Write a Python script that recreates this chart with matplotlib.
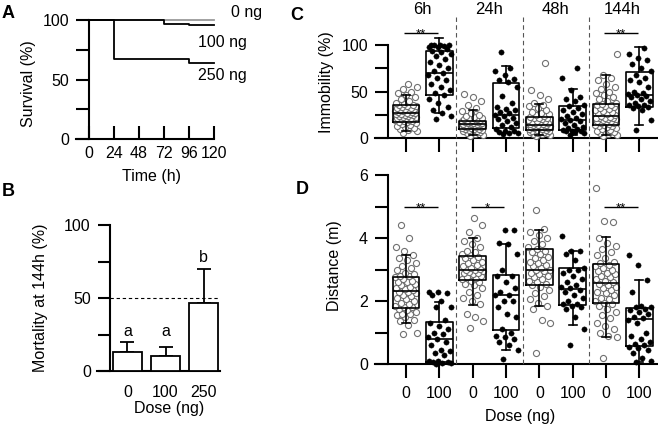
import matplotlib
matplotlib.use('Agg')
import matplotlib.pyplot as plt
from matplotlib.transforms import blended_transform_factory
from matplotlib.lines import Line2D

plt.rcParams['font.family'] = ['Liberation Sans', 'DejaVu Sans']
plt.rcParams['font.size'] = 11.5

# ---------------- data ----------------
# Panel A: survival (Kaplan-Meier steps)
surv_labels = ['0 ng', '100 ng', '250 ng']
surv0_t = [0, 120]
surv0_v = [100, 100]
surv100_t = [0, 72, 96, 120]
surv100_v = [100, 97, 96, 96]
surv250_t = [0, 24, 96, 120]
surv250_v = [100, 67, 64, 64]
time_ticks = [0, 24, 48, 72, 96, 120]

# Panel B: mortality at 144h
dose_B = ['0', '100', '250']
mort_mean = [13, 10, 46.5]
mort_err = [7, 6.3, 23.5]
mort_letters = ['a', 'a', 'b']
mort_letter_y = [27, 27, 78]
mort_ref = 50

# Panels C/D groups
time_titles = ['6h', '24h', '48h', '144h']
dose_CD = ['0', '100', '0', '100', '0', '100', '0', '100']

C_6h_ctrl = [5, 7, 9, 10, 11, 12, 13, 14, 15, 16, 17, 17, 18, 18, 19, 19, 20, 21, 21, 22, 22, 23, 23,
             24, 24, 25, 25, 26, 26, 26, 27, 27, 28, 28, 29, 29, 30, 30, 31, 31, 32, 32, 33, 34, 34, 35,
             36, 37, 38, 40, 42, 44, 46, 48, 50, 53, 55, 58]
C_6h_trt = [20, 24, 27, 30, 33, 38, 42, 46, 48, 52, 55, 58, 62, 65, 68, 70, 72, 75, 78, 82, 85, 88, 90,
            92, 94, 96, 98, 98, 99, 100, 100, 100, 100]
C_24h_ctrl = [2, 3, 4, 5, 6, 7, 8, 8, 9, 9, 10, 10, 10, 11, 11, 12, 12, 12, 13, 13, 13, 14, 14, 14, 14,
              15, 15, 15, 15, 16, 16, 16, 17, 17, 17, 18, 18, 18, 19, 19, 20, 20, 21, 22, 23, 24, 25, 27,
              29, 32, 35, 40, 44, 47]
C_24h_trt = [4, 5, 5, 6, 7, 8, 10, 12, 14, 16, 18, 20, 22, 24, 25, 27, 28, 30, 31, 33, 38, 45, 55, 60,
             62, 63, 68, 72, 75, 93]
C_48h_ctrl = [2, 3, 4, 4, 5, 5, 6, 6, 7, 7, 8, 8, 9, 9, 10, 10, 11, 11, 12, 12, 12, 13, 13, 13, 14, 14,
              14, 15, 15, 16, 16, 17, 17, 18, 18, 19, 20, 21, 22, 22, 23, 24, 25, 26, 27, 28, 30, 32, 34,
              36, 38, 42, 46, 52, 81]
C_48h_trt = [3, 5, 6, 7, 8, 8, 9, 10, 11, 12, 14, 16, 18, 19, 20, 22, 24, 26, 28, 30, 32, 34, 36, 40,
             42, 44, 52, 65, 75]
C_144h_ctrl = [2, 3, 4, 5, 6, 7, 8, 9, 10, 11, 12, 13, 13, 14, 14, 15, 16, 16, 17, 18, 18, 19, 20, 20,
               21, 21, 22, 22, 23, 24, 25, 26, 27, 28, 29, 30, 31, 32, 33, 34, 35, 36, 37, 38, 40, 42,
               44, 46, 48, 50, 53, 55, 58, 62, 65, 68, 90]
C_144h_trt = [9, 19, 30, 32, 33, 34, 35, 36, 38, 40, 42, 44, 45, 46, 47, 48, 50, 55, 60, 62, 65, 68, 72,
              75, 80, 84, 86, 90, 97]
C_points = [C_6h_ctrl, C_6h_trt, C_24h_ctrl, C_24h_trt, C_48h_ctrl, C_48h_trt, C_144h_ctrl, C_144h_trt]
C_q1 = [17.5, 46, 10, 11, 8.3, 8.3, 14, 33]
C_med = [26.5, 70, 14.7, 25, 13.7, 19, 24, 46]
C_q3 = [36, 94, 18.3, 59, 22.7, 34, 36.5, 71.5]
C_wlo = [7, 27, 3, 5, 3, 3, 3, 14]
C_whi = [46, 107, 30, 77, 37, 52.5, 68, 98]
C_sig_groups = [0, 6]
C_sig_text = ['**', '**']
C_sig_y = 113

D_6h_ctrl = [0.95, 1.0, 1.25, 1.35, 1.4, 1.5, 1.55, 1.6, 1.6, 1.65, 1.7, 1.75, 1.8, 1.8, 1.85, 1.9,
             1.95, 2.0, 2.05, 2.1, 2.15, 2.2, 2.25, 2.3, 2.3, 2.35, 2.38, 2.4, 2.45, 2.5, 2.55, 2.6, 2.6,
             2.65, 2.7, 2.75, 2.8, 2.8, 2.85, 2.9, 3.0, 3.05, 3.1, 3.2, 3.3, 3.35, 3.45, 3.6, 3.7, 4.0, 4.4]
D_6h_trt = [0.0, 0.02, 0.03, 0.05, 0.06, 0.08, 0.1, 0.3, 0.35, 0.4, 0.45, 0.6, 0.7, 0.8, 0.85, 0.95,
            1.0, 1.1, 1.2, 1.3, 1.4, 1.8, 1.8, 2.0, 2.2, 2.25, 2.3, 2.3]
D_24h_ctrl = [1.15, 1.35, 1.5, 1.6, 1.9, 2.0, 2.1, 2.2, 2.3, 2.4, 2.5, 2.55, 2.6, 2.65, 2.7, 2.72,
              2.75, 2.8, 2.85, 2.88, 2.9, 2.92, 2.95, 2.97, 3.0, 3.02, 3.05, 3.1, 3.15, 3.2, 3.25, 3.3,
              3.35, 3.4, 3.45, 3.5, 3.55, 3.6, 3.7, 3.8, 3.9, 4.0, 4.2, 4.4, 4.65]
D_24h_trt = [0.15, 0.45, 0.6, 0.7, 0.8, 0.85, 0.9, 1.0, 1.1, 1.5, 1.6, 1.8, 2.0, 2.0, 2.2, 2.2, 2.3,
             2.4, 2.6, 2.8, 2.8, 3.0, 3.5, 3.8, 3.85, 4.25, 4.25]
D_48h_ctrl = [0.35, 1.3, 1.4, 1.75, 1.85, 1.95, 2.05, 2.15, 2.25, 2.35, 2.45, 2.5, 2.55, 2.6, 2.65,
              2.7, 2.75, 2.8, 2.85, 2.9, 2.95, 3.0, 3.0, 3.05, 3.1, 3.15, 3.2, 3.25, 3.3, 3.35, 3.4, 3.5,
              3.55, 3.6, 3.65, 3.7, 3.8, 3.9, 4.0, 4.1, 4.2, 4.3, 4.9]
D_48h_trt = [0.6, 1.1, 1.5, 1.75, 1.8, 1.85, 1.9, 1.9, 2.0, 2.1, 2.2, 2.3, 2.35, 2.4, 2.45, 2.5, 2.6,
             2.7, 2.8, 2.9, 3.0, 3.0, 3.05, 3.3, 3.5, 3.6, 3.6, 4.05]
D_144h_ctrl = [0.2, 0.85, 0.9, 1.0, 1.1, 1.2, 1.3, 1.45, 1.55, 1.65, 1.75, 1.85, 1.9, 1.95, 2.0, 2.05,
               2.1, 2.2, 2.25, 2.3, 2.35, 2.4, 2.45, 2.5, 2.55, 2.6, 2.65, 2.7, 2.75, 2.8, 2.85, 2.9,
               2.95, 3.0, 3.05, 3.1, 3.15, 3.2, 3.25, 3.35, 3.45, 3.55, 3.65, 3.75, 3.85, 4.0, 4.5, 4.55,
               5.6]
D_144h_trt = [0.05, 0.1, 0.2, 0.35, 0.45, 0.5, 0.55, 0.6, 0.65, 0.7, 0.8, 0.9, 1.0, 1.3, 1.4, 1.45,
              1.5, 1.6, 1.65, 1.7, 1.75, 1.8, 1.8, 1.85, 2.3, 2.68, 3.15, 3.45]
D_points = [D_6h_ctrl, D_6h_trt, D_24h_ctrl, D_24h_trt, D_48h_ctrl, D_48h_trt, D_144h_ctrl, D_144h_trt]
D_q1 = [1.79, 0.07, 2.66, 1.07, 2.52, 1.86, 1.94, 0.57]
D_med = [2.33, 0.79, 2.97, 2.2, 3.0, 2.39, 2.57, 1.43]
D_q3 = [2.77, 1.34, 3.44, 2.84, 3.65, 3.05, 3.18, 1.77]
D_wlo = [1.29, 0.02, 1.88, 0.45, 1.83, 1.23, 0.87, 0.07]
D_whi = [3.46, 1.98, 4.0, 3.8, 4.26, 3.58, 4.04, 2.67]
D_sig_groups = [0, 2, 6]
D_sig_text = ['**', '*', '**']
D_sig_y = 5.0

# ---------------- figure ----------------
W, H = 658, 425
fig = plt.figure(figsize=(W / 100, H / 100), dpi=100)
LW = 1.5
TL = 9.4


def px_axes(l, t, r, b):
    return fig.add_axes([l / W, 1 - b / H, (r - l) / W, (b - t) / H])


def style(ax):
    for s in ['top', 'right']:
        ax.spines[s].set_visible(False)
    for s in ['left', 'bottom']:
        ax.spines[s].set_linewidth(LW)
    ax.tick_params(width=LW, length=TL, which='both')


def figtext(x, y, s, **kw):
    fig.text(x / W, 1 - y / H, s, ha='center', va='center', **kw)


# ---- Panel A ----
axA = px_axes(76, 20, 214, 139)
style(axA)
axA.set_xlim(-12.5, 120)
axA.set_ylim(0, 100)
axA.spines['left'].set_position(('data', 0))
axA.step(surv0_t, surv0_v, where='post', color='#9a9a9a', lw=1.3, clip_on=False, zorder=2)
axA.step(surv100_t, surv100_v, where='post', color='k', lw=1.3, clip_on=False, zorder=3)
axA.step(surv250_t, surv250_v, where='post', color='k', lw=1.3, clip_on=False, zorder=3)
axA.set_xticks(time_ticks)
axA.set_xticklabels([str(t) for t in time_ticks])
axA.tick_params(axis='x', direction='in', pad=5)
axA.set_yticks([0, 50, 100])
axA.set_yticks([25, 75], minor=True)
axA.tick_params(axis='y', which='both', direction='out', pad=5)
for lab, xv, yv in zip(surv_labels, [136, 104.6, 104.6], [106.7, 81.5, 53]):
    axA.text(xv, yv, lab, ha='left', va='center', clip_on=False)

# ---- Panel B ----
axB = px_axes(97, 225, 220, 371)
style(axB)
axB.set_xlim(-0.80, 2.43)
axB.set_ylim(0, 100)
axB.spines['left'].set_position(('data', -0.46))
posB = list(range(len(dose_B)))
axB.bar(posB, mort_mean, width=0.76, color='white', edgecolor='k', lw=1.3, zorder=3)
axB.errorbar(posB, mort_mean, yerr=[[0] * len(posB), mort_err], fmt='none', ecolor='k',
             elinewidth=1.3, capsize=5, capthick=1.3, zorder=2)
axB.hlines(mort_ref, -0.46, 2.43, colors='k', linestyles=(0, (3, 2.5)), lw=0.8, zorder=1)
for p, s, yv in zip(posB, mort_letters, mort_letter_y):
    axB.text(p, yv, s, ha='center', va='center')
axB.set_xticks(posB)
axB.set_xticklabels(dose_B)
axB.tick_params(axis='x', length=0, pad=10)
axB.set_yticks([0, 50, 100])
axB.set_yticks([25, 75], minor=True)
axB.tick_params(axis='y', which='both', direction='out', pad=5, length=8.8)

# ---- Panels C / D ----
cpx = 33.33
axC = px_axes(375, 138 - 120 * 0.93, 657, 138)
axD = px_axes(375, 175, 657, 364)


def jitter(n, half):
    return [half * 2 * (((k * 0.6180339887) + 0.37) % 1.0 - 0.5) for k in range(n)]


def draw_group_panel(ax, pts, q1, med, q3, wlo, whi):
    style(ax)
    ax.set_xlim(-0.93, 7.53)
    ax.spines['left'].set_position(('data', -0.54))
    for i, vals in enumerate(pts):
        ctrl = (i % 2 == 0)
        jit = jitter(len(vals), 0.33 if ctrl else 0.36)
        xs = [i + j for j in jit]
        if ctrl:
            ax.plot(xs, vals, ls='none', marker='o', ms=4.4, mfc='white', mec='#707070',
                    mew=0.8, zorder=3, clip_on=False)
        else:
            ax.plot(xs, vals, ls='none', marker='o', ms=3.8, mfc='k', mec='k',
                    mew=0.3, zorder=3, clip_on=False)
    stats = [dict(med=m, q1=a, q3=b, whislo=lo, whishi=hi, fliers=[])
             for m, a, b, lo, hi in zip(med, q1, q3, wlo, whi)]
    lp = dict(color='k', lw=1.2)
    ax.bxp(stats, positions=list(range(len(stats))), widths=0.8, showfliers=False,
           capwidths=0.24, boxprops=lp, whiskerprops=lp, medianprops=lp, capprops=lp,
           manage_ticks=False, zorder=4)
    ax.set_xticks(list(range(len(stats))))
    ax.tick_params(axis='x', direction='out', length=10, pad=6)
    ax.tick_params(axis='y', which='both', direction='out', pad=5)


draw_group_panel(axC, C_points, C_q1, C_med, C_q3, C_wlo, C_whi)
axC.set_ylim(0, 120)
axC.spines['left'].set_bounds(0, 100)
axC.set_yticks([0, 50, 100])
axC.set_yticks([25, 75], minor=True)
axC.set_xticklabels([])

draw_group_panel(axD, D_points, D_q1, D_med, D_q3, D_wlo, D_whi)
axD.set_ylim(0, 6)
axD.set_yticks([0, 2, 4, 6])
axD.set_yticks([1, 3, 5], minor=True)
axD.set_xticklabels(dose_CD)


def sig(ax, groups, texts, y):
    for g, t in zip(groups, texts):
        ax.hlines(y, g - 0.05, g + 0.95, colors='k', lw=1.0, clip_on=False)
        ax.annotate(t, xy=(g + 0.45, y), xytext=(0, -3.5), textcoords='offset points',
                    ha='center', va='baseline', fontsize=9.5, annotation_clip=False)


sig(axC, C_sig_groups, C_sig_text, C_sig_y)
sig(axD, D_sig_groups, D_sig_text, D_sig_y)

# column titles and separators
trC = blended_transform_factory(axC.transData, fig.transFigure)
for k, t in enumerate(time_titles):
    fig.text(2 * k + 0.5, 1 - 10 / H, t, transform=trC, ha='center', va='center', fontsize=12)
for k in range(len(time_titles) - 1):
    xs = 2 * k + 1.5
    fig.add_artist(Line2D([xs, xs], [1 - 17 / H, 1 - 364 / H], transform=trC, color='#555555',
                          lw=0.8, ls=(0, (4, 3))))

# axis labels
figtext(29, 84, 'Survival (%)', rotation=90)
figtext(152, 177, 'Time (h)')
figtext(41, 298, 'Mortality at 144h (%)', rotation=90)
figtext(169, 408, 'Dose (ng)')
figtext(327, 82, 'Immobility (%)', rotation=90)
figtext(335, 266, 'Distance (m)', rotation=90)
figtext(520, 416, 'Dose (ng)')

# panel letters
for s, x, y in [('A', 8, 13), ('B', 8, 192), ('C', 297, 16), ('D', 302, 189)]:
    figtext(x, y, s, fontweight='bold', fontsize=13)

fig.savefig('out.png', dpi=100)
